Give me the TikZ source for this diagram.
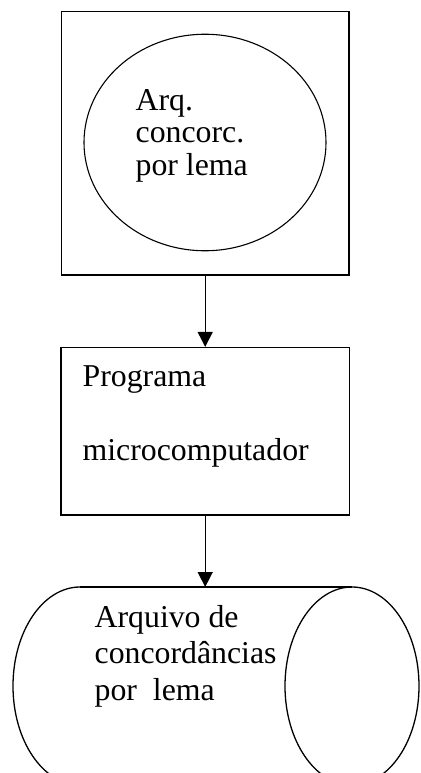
\documentclass[tikz,border=0pt]{standalone}
\usepackage{fontspec}
\setmainfont{Liberation Serif}
\usetikzlibrary{arrows.meta,shapes.geometric}
\begin{document}
\begin{tikzpicture}[x=1bp,y=-1bp, line width=1.3bp,
  box/.style={draw, rectangle, inner sep=0pt, line width=1.5bp},
  oval/.style={draw, ellipse, inner sep=0pt, line width=1.1bp},
  labeltext/.style={inner sep=0pt, anchor=base west, font=\fontsize{31.8bp}{36.6bp}\selectfont},
  flow/.style={line width=1.4bp, -{Triangle[width=15bp,length=15bp]}}]
\useasboundingbox (0,0) rectangle (420,773);
% top box with ellipse
\node[box, minimum width=287.5bp, minimum height=263.5bp] (outer) at (205.2,143.3) {};
\node[oval, minimum width=242bp, minimum height=216.5bp] (oval) at (205,142.5) {};
\node[labeltext] (ovaltext) at (135,110) {\vtop{\baselineskip=32.5bp\hbox{Arq.}\hbox{concorc.}\hbox{por lema}}};
% program box
\node[box, minimum width=288.6bp, minimum height=167.3bp] (prog) at (205.2,431.3) {};
\node[labeltext] (progtext) at (82,386.5) {\vtop{\baselineskip=37.2bp\hbox{Programa}\hbox{}\hbox{microcomputador}}};
% horizontal cylinder (file)
\coordinate (cyltop) at (205.2,587);
\draw (80,587) -- (352,587);
\draw (352,686) ellipse [x radius=67, y radius=99];
\draw (80,587) arc[start angle=-90, end angle=-270, x radius=67, y radius=99] -- (352,785);
\node[labeltext] (cyltext) at (94,627) {\vtop{\baselineskip=36.6bp\hbox{Arquivo de}\hbox{concordâncias}\hbox{por\ \ lema}}};
% connectors
\draw[flow] (outer.south) -- (prog.north);
\draw[flow] (prog.south) -- (cyltop);
\end{tikzpicture}
\end{document}
